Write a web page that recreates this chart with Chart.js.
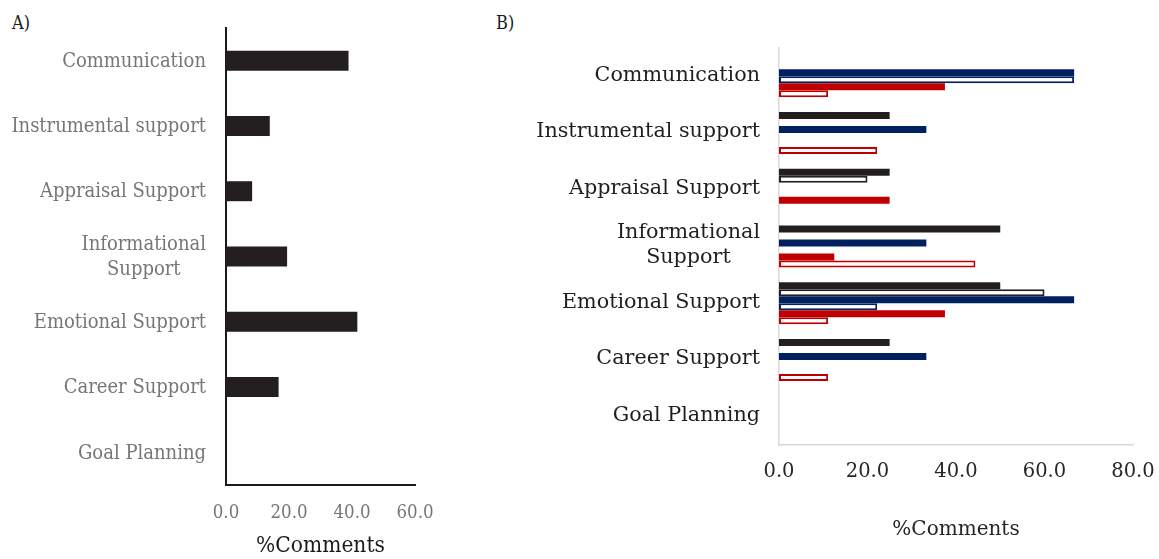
<!DOCTYPE html>
<html>
<head>
<meta charset="utf-8">
<script src="https://cdn.jsdelivr.net/npm/chart.js@4.4.1/dist/chart.umd.min.js"></script>
<style>
  html, body { margin: 0; padding: 0; background: #ffffff; }
  body { width: 1159px; height: 559px; position: relative; overflow: hidden; }
  .panel { position: absolute; top: 0; }
  .tag { position: absolute; top: 12px; font-family: "DejaVu Serif Condensed", "DejaVu Serif", serif; font-size: 18px; color: #1a1a1a; }
</style>
</head>
<body>
<div class="tag" style="left:12px;">A)</div>
<div class="tag" style="left:496px;">B)</div>
<div class="panel" style="left:0;"><canvas id="chartA" width="440" height="559"></canvas></div>
<div class="panel" style="left:490px;"><canvas id="chartB" width="669" height="559"></canvas></div>
<script>
// Comment categories (shared by both panels); multi-line entries are arrays of lines
const categories = [
  'Communication',
  'Instrumental support',
  'Appraisal Support',
  ['Informational', 'Support'],
  'Emotional Support',
  'Career Support',
  'Goal Planning'
];

// Panel A: overall share of comments per category
const overallPercent = [38.9, 13.9, 8.3, 19.4, 41.7, 16.7, 0];

// Panel B: share of comments per category, by group
const darkFilled = [0, 25.0, 25.0, 50.0, 50.0, 25.0, 0];
const darkOpen   = [0, 0, 20.0, 0, 60.0, 0, 0];
const blueFilled = [66.7, 33.3, 0, 33.3, 66.7, 33.3, 0];
const blueOpen   = [66.7, 0, 0, 0, 22.2, 0, 0];
const redFilled  = [37.5, 0, 25.0, 12.5, 37.5, 0, 0];
const redOpen    = [11.1, 22.2, 0, 44.4, 11.1, 11.1, 0];

// Axis ticks
const ticksA = [0, 20, 40, 60];
const ticksB = [0, 20, 40, 60, 80];

const SERIF_A = '"DejaVu Serif Condensed", "DejaVu Serif", serif';
const SERIF_B = '"DejaVu Serif", serif';

// Draws the category labels right-aligned as a block, each line centred within it
const categoryLabels = {
  id: 'categoryLabels',
  afterDraw(chart, args, opts) {
    const scale = chart.scales.y;
    const ctx = chart.ctx;
    ctx.save();
    ctx.font = opts.size + 'px ' + opts.family;
    ctx.fillStyle = opts.color;
    ctx.textBaseline = 'middle';
    ctx.textAlign = 'center';
    const right = scale.right - opts.gap;
    chart.data.labels.forEach((label, i) => {
      const lines = Array.isArray(label) ? label : [label];
      const yc = scale.getPixelForTick(i) + (opts.shift || 0);
      const w = Math.max(...lines.map(l => ctx.measureText(l).width));
      const cx = right - w / 2;
      lines.forEach((line, j) => {
        ctx.fillText(line, cx, yc + (j - (lines.length - 1) / 2) * opts.lineHeight);
      });
    });
    ctx.restore();
  }
};

function fixedTicks(values) {
  return function (scale) {
    scale.ticks = values.map(v => ({ value: v }));
  };
}

// ---------- Panel A ----------
new Chart(document.getElementById('chartA'), {
  type: 'bar',
  data: {
    labels: categories,
    datasets: [{
      label: '%Comments',
      data: overallPercent,
      backgroundColor: '#231f20',
      borderWidth: 0,
      barPercentage: 0.306,
      categoryPercentage: 1.0
    }]
  },
  options: {
    indexAxis: 'y',
    responsive: false,
    animation: false,
    layout: { padding: { top: 28, right: 25, bottom: 0, left: 0 } },
    plugins: {
      legend: { display: false },
      tooltip: { enabled: false },
      categoryLabels: { family: SERIF_A, size: 20, color: '#767676', gap: 20, lineHeight: 25, shift: 1 }
    },
    scales: {
      x: {
        min: 0, max: 60,
        afterBuildTicks: fixedTicks(ticksA),
        afterFit(scale) { scale.height = 74; },
        grid: { display: false, drawTicks: true, tickLength: 17 },
        border: { display: true, color: '#1a1a1a', width: 2 },
        ticks: {
          color: '#767676',
          padding: 0,
          font: { family: SERIF_A, size: 18.5, lineHeight: 1.2 },
          callback: v => Number(v).toFixed(1)
        },
        title: {
          display: true,
          text: '%Comments',
          color: '#1a1a1a',
          font: { family: SERIF_A, size: 22.5, lineHeight: 1.1 },
          padding: { top: 0, bottom: 0 }
        }
      },
      y: {
        afterFit(scale) { scale.width = 226; },
        grid: { display: false, drawTicks: false },
        border: { display: true, color: '#1a1a1a', width: 2 },
        ticks: { display: false }
      }
    }
  },
  plugins: [categoryLabels]
});

// ---------- Panel B ----------
function filledSet(label, data, color) {
  return { label, data, backgroundColor: color, borderColor: color, borderWidth: 0, borderSkipped: false };
}
function openSet(label, data, color) {
  return { label, data, backgroundColor: '#ffffff', borderColor: color, borderWidth: 2, borderSkipped: false };
}

new Chart(document.getElementById('chartB'), {
  type: 'bar',
  data: {
    labels: categories,
    datasets: [
      filledSet('Dark (filled)', darkFilled, '#231f20'),
      openSet('Dark (open)', darkOpen, '#231f20'),
      filledSet('Blue (filled)', blueFilled, '#002060'),
      openSet('Blue (open)', blueOpen, '#002060'),
      filledSet('Red (filled)', redFilled, '#c00000'),
      openSet('Red (open)', redOpen, '#c00000')
    ]
  },
  options: {
    indexAxis: 'y',
    responsive: false,
    animation: false,
    datasets: { bar: { barPercentage: 1.0, categoryPercentage: 0.74 } },
    layout: { padding: { top: 48, right: 26, bottom: 0, left: 0 } },
    plugins: {
      legend: { display: false },
      tooltip: { enabled: false },
      categoryLabels: { family: SERIF_B, size: 20.7, color: '#1f1f1f', gap: 19, lineHeight: 25, shift: -1 }
    },
    scales: {
      x: {
        min: 0, max: 80,
        afterBuildTicks: fixedTicks(ticksB),
        afterFit(scale) { scale.height = 114; },
        grid: { display: false, drawTicks: true, tickLength: 15 },
        border: { display: true, color: '#d9d9d9', width: 1.5 },
        ticks: {
          color: '#262626',
          padding: 0,
          font: { family: SERIF_B, size: 19.5, lineHeight: 1.2 },
          callback: v => Number(v).toFixed(1)
        },
        title: {
          display: true,
          text: '%Comments',
          color: '#262626',
          font: { family: SERIF_B, size: 20, lineHeight: 1.2 },
          padding: { top: 0, bottom: 17 }
        }
      },
      y: {
        afterFit(scale) { scale.width = 289; },
        grid: { display: false, drawTicks: false },
        border: { display: true, color: '#d9d9d9', width: 1.5 },
        ticks: { display: false }
      }
    }
  },
  plugins: [categoryLabels]
});
</script>
</body>
</html>
